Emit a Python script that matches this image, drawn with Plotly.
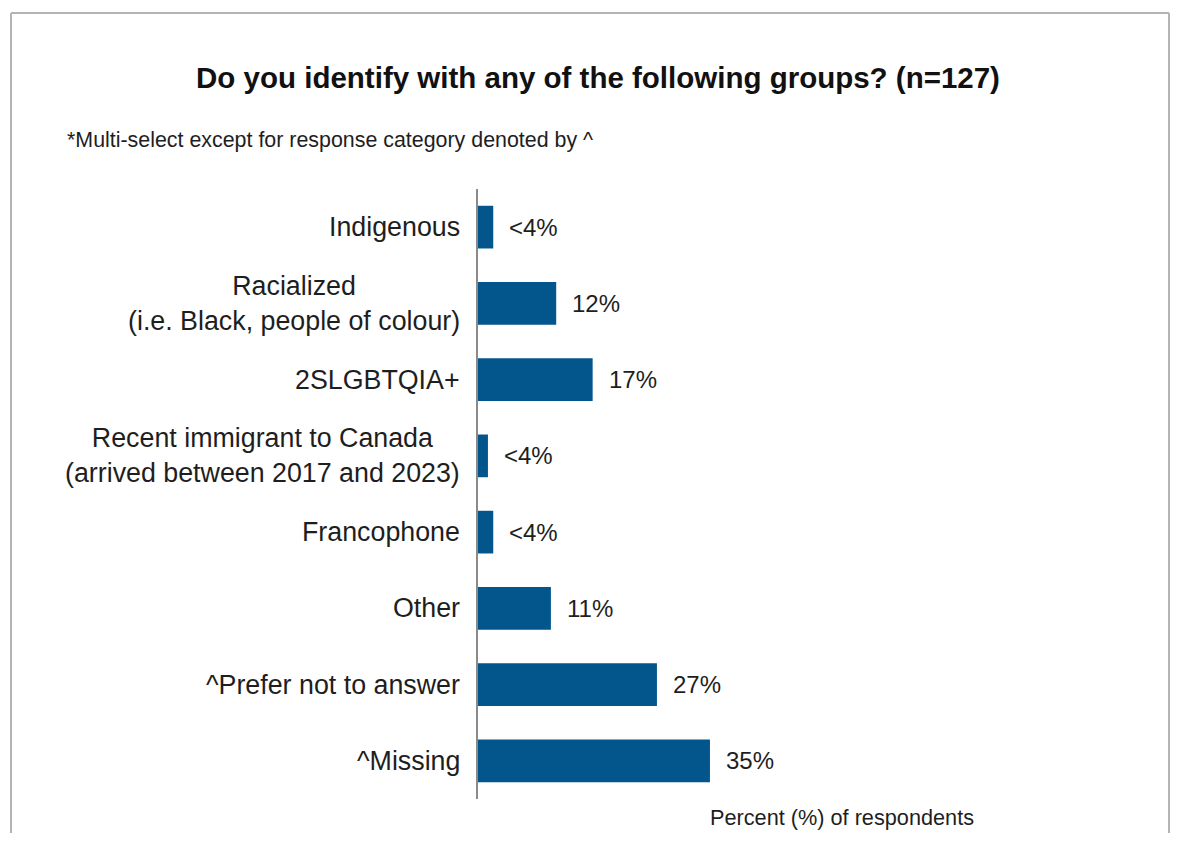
import plotly.graph_objects as go

categories = [
    "Indigenous",
    "Racialized<br>(i.e. Black, people of colour)",
    "2SLGBTQIA+",
    "Recent immigrant to Canada<br>(arrived between 2017 and 2023)",
    "Francophone",
    "Other",
    "^Prefer not to answer",
    "^Missing",
]
values = [2.3, 11.8, 17.3, 1.5, 2.3, 11.0, 27.0, 35.0]
value_labels = ["<4%", "12%", "17%", "<4%", "<4%", "11%", "27%", "35%"]

title_text = "Do you identify with any of the following groups? (n=127)"
subtitle_text = "*Multi-select except for response category denoted by ^"
xaxis_title = "Percent (%) of respondents"

# the page body has an 8px default margin; lay out in page pixels minus that
OFF = 8
W, H = 1178 - OFF, 841 - 2 * OFF
PL, PR, PT, PB = 478 - OFF, 1150 - OFF, 189 - OFF, 799 - OFF
FONT = "Liberation Sans, Arial, sans-serif"
BAR = "#03568C"
TXT = "#1e1e1e"


def px_x(px):
    return (px - OFF - PL) / (PR - PL)


def px_y(py):
    return (PB - (py - OFF)) / (PB - PT)


fig = go.Figure(
    go.Bar(
        x=values,
        y=categories,
        orientation="h",
        marker=dict(color=BAR, line=dict(width=0)),
        width=0.56,
        hoverinfo="skip",
    )
)

annotations = []
for cat, v, lab in zip(categories, values, value_labels):
    annotations.append(dict(
        x=v, y=cat, xref="x", yref="y", text=lab, showarrow=False,
        xanchor="left", yanchor="middle", xshift=14,
        font=dict(family=FONT, size=24, color=TXT),
    ))
    annotations.append(dict(
        x=0, y=cat, xref="paper", yref="y", text=cat, showarrow=False,
        xanchor="right", yanchor="middle", xshift=-16, align="center",
        font=dict(family=FONT, size=26.8, color=TXT),
    ))

annotations.append(dict(
    x=px_x(65), y=px_y(140), xref="paper", yref="paper", text=subtitle_text,
    showarrow=False, xanchor="left", yanchor="middle",
    font=dict(family=FONT, size=21.4, color=TXT),
))
annotations.append(dict(
    x=px_x(842), y=px_y(817), xref="paper", yref="paper", text=xaxis_title,
    showarrow=False, xanchor="center", yanchor="middle",
    font=dict(family=FONT, size=21.7, color=TXT),
))

border = dict(color="#b4b4b4", width=2)
RIGHT_EDGE = 1169
shapes = [
    dict(type="line", xref="paper", yref="paper", x0=px_x(11), x1=px_x(RIGHT_EDGE),
         y0=px_y(13), y1=px_y(13), line=border),
    dict(type="line", xref="paper", yref="paper", x0=px_x(11), x1=px_x(11),
         y0=px_y(13), y1=px_y(860), line=border),
    dict(type="line", xref="paper", yref="paper", x0=px_x(RIGHT_EDGE), x1=px_x(RIGHT_EDGE),
         y0=px_y(13), y1=px_y(860), line=border),
]

fig.update_layout(
    width=W, height=H,
    margin=dict(l=PL, r=W - PR, t=PT, b=H - PB, pad=0),
    paper_bgcolor="white", plot_bgcolor="white",
    showlegend=False,
    title=dict(
        text="<b>" + title_text + "</b>", x=(598 - OFF) / W, xanchor="center",
        y=1 - (78 - OFF) / H, yanchor="middle", yref="container",
        font=dict(family=FONT, size=29.5, color="#111111"),
    ),
    xaxis=dict(range=[0, 101.4], visible=False, fixedrange=True),
    yaxis=dict(
        autorange="reversed", showticklabels=False, ticks="",
        showline=True, linecolor="#8a8a8a", linewidth=1.5,
        showgrid=False, zeroline=False, fixedrange=True,
    ),
    annotations=annotations,
    shapes=shapes,
)

fig.write_html("out.html")
